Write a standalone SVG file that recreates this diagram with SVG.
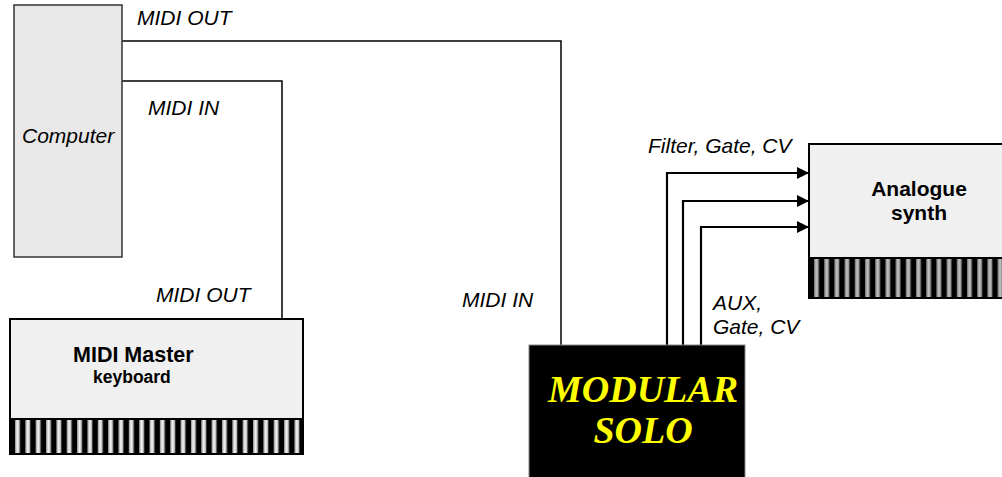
<svg xmlns="http://www.w3.org/2000/svg" width="1002" height="477" viewBox="0 0 1002 477">
<style>
.lbl{font-family:"Liberation Sans",Arial,sans-serif;font-style:italic;font-size:21px;fill:#000}
.bold{font-family:"Liberation Sans",Arial,sans-serif;font-weight:bold;fill:#000}
.wire{fill:none;stroke:#000;stroke-width:1.5}
.sig{fill:none;stroke:#000;stroke-width:2.2}
.ms{font-family:"Liberation Serif","Times New Roman",serif;font-style:italic;font-weight:bold;font-size:38px;fill:#ffff00}
</style>
<defs>
<marker id="ah" viewBox="0 0 12 12" refX="12" refY="6" markerWidth="12" markerHeight="12" markerUnits="userSpaceOnUse" orient="auto">
<path d="M0,0 L12,6 L0,12 Z" fill="#000"/>
</marker>
<linearGradient id="kg" x1="0" y1="0" x2="1" y2="0">
<stop offset="0" stop-color="#999"/>
<stop offset="0.5" stop-color="#fafafa"/>
<stop offset="1" stop-color="#999"/>
</linearGradient>
<linearGradient id="kg2" x1="0" y1="0" x2="1" y2="0">
<stop offset="0" stop-color="#777"/>
<stop offset="0.5" stop-color="#c8c8c8"/>
<stop offset="1" stop-color="#777"/>
</linearGradient>
<pattern id="keys1" x="14" y="0" width="10.35" height="40" patternUnits="userSpaceOnUse">
<rect x="0" y="0" width="10.35" height="40" fill="#000"/>
<rect x="1" y="0" width="5" height="40" fill="url(#kg)"/>
</pattern>
<pattern id="keys2" x="813" y="0" width="10.2" height="50" patternUnits="userSpaceOnUse">
<rect x="0" y="0" width="10.2" height="50" fill="#000"/>
<rect x="1" y="0" width="5" height="50" fill="url(#kg2)"/>
</pattern>
</defs>

<g id="connectors">
<polyline class="wire" points="122,41 561,41 561,345"/>
<polyline class="wire" points="122,81 282,81 282,319"/>
<polyline class="sig" points="667,345 667,173 809,173" marker-end="url(#ah)"/>
<polyline class="sig" points="683,345 683,201 809,201" marker-end="url(#ah)"/>
<polyline class="sig" points="701,345 701,227 809,227" marker-end="url(#ah)"/>
</g>

<g id="computer">
<rect x="14" y="5" width="108" height="252" fill="#e8e8e8" stroke="#333" stroke-width="1.5"/>
<text class="lbl" x="22" y="143">Computer</text>
</g>

<g id="keyboard">
<rect x="10" y="319" width="293" height="135" fill="#f0f0f0" stroke="#000" stroke-width="2"/>
<rect x="10" y="419" width="293" height="35" fill="url(#keys1)" stroke="#000" stroke-width="2"/>
<text class="bold" x="73" y="362" font-size="21.5">MIDI Master</text>
<text class="bold" x="93" y="383" font-size="17.5">keyboard</text>
</g>

<g id="modular">
<rect x="529" y="345" width="216" height="134" fill="#000" stroke="#888" stroke-width="1"/>
<text class="ms" x="643" y="402" text-anchor="middle">MODULAR</text>
<text class="ms" x="643" y="443" text-anchor="middle">SOLO</text>
</g>

<g id="analogue">
<rect x="809" y="144" width="200" height="154" fill="#f0f0f0" stroke="#000" stroke-width="2"/>
<rect x="809" y="258" width="200" height="40" fill="url(#keys2)" stroke="#000" stroke-width="2"/>
<text class="bold" x="919" y="196" font-size="21" text-anchor="middle">Analogue</text>
<text class="bold" x="919" y="220" font-size="21" text-anchor="middle">synth</text>
</g>

<g id="labels">
<text class="lbl" x="137" y="25">MIDI OUT</text>
<text class="lbl" x="148" y="115">MIDI IN</text>
<text class="lbl" x="156" y="302">MIDI OUT</text>
<text class="lbl" x="462" y="307">MIDI IN</text>
<text class="lbl" x="648" y="153">Filter, Gate, CV</text>
<text class="lbl" x="713" y="310">AUX,</text>
<text class="lbl" x="713" y="334">Gate, CV</text>
</g>
</svg>
